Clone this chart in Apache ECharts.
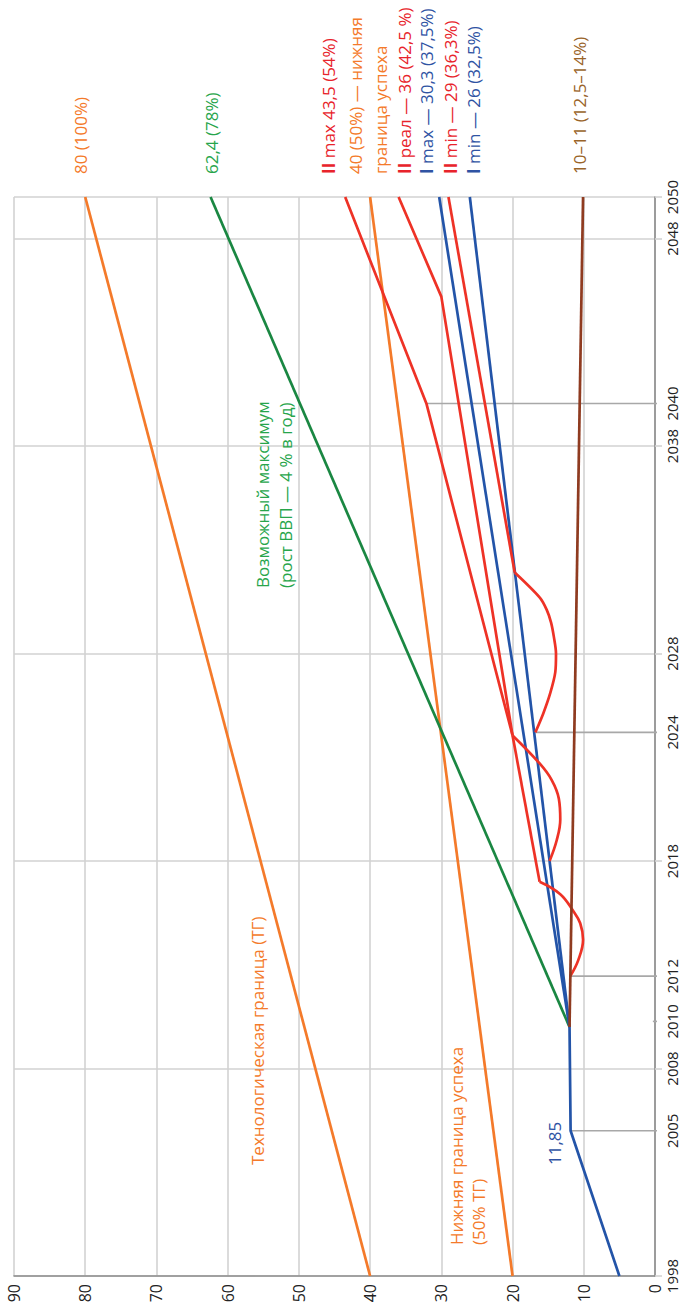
<!DOCTYPE html>
<html><head><meta charset="utf-8">
<script src="https://cdn.jsdelivr.net/npm/echarts@6/dist/echarts.min.js"></script>
<style>html,body{margin:0;padding:0;background:#fff;overflow:hidden}#c{width:683px;height:1307px;}</style>
</head><body><div id="c"></div>
<script>
// ---------- DATA: [year, value] ----------
const techFrontier = [[1998, 40], [2050, 80]];
const lowerSuccess = [[1998, 20], [2050, 40]];
const possibleMax  = [[2010, 12], [2050, 62.4]];
const historyI     = [[1998, 5], [2005, 11.85], [2010, 12]];
const iMax         = [[2010, 12], [2050, 30.3]];
const iMin         = [[2010, 12], [2050, 26]];
const stagnation   = [[2010, 12], [2050, 10.1]];
const crisis1      = [[2012.45, 11.9], [2013.2, 10.8], [2014.2, 10.1], [2015.0, 10.5], [2015.6, 11.5], [2016.4, 13.3], [2017.0, 16.2]];
const recovery1    = [[2017.0, 16.2], [2024.05, 20.0]];
const crisis2      = [[2018.0, 14.8], [2019.0, 13.8], [2020.0, 13.3], [2021.0, 13.5], [2021.9, 14.5], [2022.7, 16.2], [2024.05, 20.0]];
const iiMax        = [[2024.05, 20.0], [2040.05, 32.1], [2050, 43.5]];
const iiReal       = [[2024.05, 20.0], [2045.2, 30.0], [2050, 36]];
const crisis3      = [[2024.2, 16.8], [2025.1, 15.7], [2026.1, 14.7], [2027.1, 14.0], [2028.0, 13.9], [2028.8, 14.2], [2029.5, 14.6], [2030.1, 15.2], [2030.7, 16.2], [2031.9, 19.7]];
const iiMin        = [[2031.9, 19.7], [2050, 29]];
const markerYears  = [2005, 2010.27, 2012.45, 2024.2, 2040.05];
const markerFrom   = [11.85, 0.3, 11.9, 16.8, 32.1];
const markerTo     = -1.1;
const yearLabels   = [1998, 2005, 2008, 2010.27, 2012.45, 2018, 2024.2, 2028, 2038, 2040.05, 2048, 2050];

// ---------- STYLE ----------
const C = {
  orange: '#f47a2a', green: '#1a8742', greenT: '#27a54b', blue: '#2354a8', blueT: '#2f53a3',
  red: '#ee3226', redT: '#e8232b', brown: '#8f3b20', brownT: '#9a6429', grid: '#d2d2d2', axis: '#8c8c8c', marker: '#a8a8a8'
};
const FONT = '"Open Sans", "Noto Sans", sans-serif';
const LW = 2.7;
const FS = 17;

const flip = d => d.map(p => [p[1], p[0]]); // [value, year] for rotated layout

function line(name, data, color, extra) {
  return Object.assign({
    type: 'line', name, data: flip(data), symbol: 'none', silent: true,
    lineStyle: { color, width: LW }, z: 3, animation: false
  }, extra || {});
}

const series = [];
markerYears.forEach((y, i) => {
  series.push({
    type: 'line', data: [[markerFrom[i], y], [markerTo, y]], symbol: 'none', clip: false, silent: true,
    lineStyle: { color: C.marker, width: 1.6 }, z: 2, animation: false
  });
});
series.push(
  line('tg', techFrontier, C.orange),
  line('low', lowerSuccess, C.orange),
  line('max', possibleMax, C.green),
  line('hist', historyI, C.blue),
  line('imax', iMax, C.blue),
  line('imin', iMin, C.blue),
  line('c1', crisis1, C.red, { smooth: 0.4 }),
  line('r1', recovery1, C.red),
  line('c2', crisis2, C.red, { smooth: 0.4 }),
  line('iimax', iiMax, C.red),
  line('iireal', iiReal, C.red),
  line('c3', crisis3, C.red, { smooth: 0.3 }),
  line('iimin', iiMin, C.red),
  line('stag', stagnation, C.brown, { z: 4 })
);

function txt(x, y, text, fill, lh, rich) {
  return {
    type: 'text', x, y, rotation: Math.PI / 2, silent: true, z: 10,
    style: {
      text, fill, font: FS + 'px ' + FONT, align: 'left', verticalAlign: 'middle',
      lineHeight: lh || 22,
      rich: rich ? { b: { fontWeight: 'bold', fill, fontSize: FS, fontFamily: FONT } } : undefined
    }
  };
}

const LX = 174; // start (bottom) of end labels
const graphics = [
  txt(257, 1165, 'Технологическая граница (ТГ)', C.orange),
  txt(467, 1245, 'Нижняя граница успеха\n(50% ТГ)', C.orange, 22),
  txt(554.5, 1165, '11,85', C.blueT),
  txt(273.5, 588, 'Возможный максимум\n(рост ВВП — 4 % в год)', C.greenT, 23),
  txt(80, LX, '80 (100%)', C.orange),
  txt(211, LX, '62,4 (78%)', C.greenT),
  txt(328.5, LX, '{b|II} max 43,5 (54%)', C.redT, 22, true),
  txt(368, LX, '40 (50%) — нижняя\nграница успеха', C.orange, 25),
  txt(404, LX, '{b|II} реал — 36 (42,5 %)', C.redT, 22, true),
  txt(426.7, LX, '{b|I} max — 30,3 (37,5%)', C.blueT, 22, true),
  txt(450, LX, '{b|II} min — 29 (36,3%)', C.redT, 22, true),
  txt(473, LX, '{b|I} min — 26 (32,5%)', C.blueT, 22, true),
  txt(579.7, LX, '10–11 (12,5–14%)', C.brownT)
];

const chart = echarts.init(document.getElementById('c'), null, { renderer: 'svg' });
chart.setOption({
  animation: false,
  backgroundColor: '#fff',
  grid: { left: 14, right: 28, top: 197, bottom: 31, containLabel: false },
  xAxis: {
    type: 'value', min: 0, max: 90, interval: 10, inverse: true, position: 'bottom',
    axisLine: { show: true, onZero: false, lineStyle: { color: C.axis, width: 1.6 } },
    axisTick: { show: false },
    splitLine: { show: true, lineStyle: { color: C.grid, width: 1.6 } },
    axisLabel: { rotate: 90, margin: 8, color: '#222', fontSize: 16, fontFamily: FONT }
  },
  yAxis: {
    type: 'value', min: 1998, max: 2050, interval: 10, position: 'right',
    axisLine: { show: true, onZero: false, lineStyle: { color: C.axis, width: 1.6 } },
    axisTick: { show: true, length: 7, lineStyle: { color: C.grid, width: 1.6 } },
    splitLine: { show: true, lineStyle: { color: C.grid, width: 1.6 } },
    axisLabel: {
      customValues: yearLabels, rotate: 90, margin: 9, color: '#222', fontSize: 15, lineHeight: 16,
      fontFamily: FONT, formatter: v => String(Math.round(v))
    }
  },
  series,
  graphic: graphics
});
</script></body></html>
